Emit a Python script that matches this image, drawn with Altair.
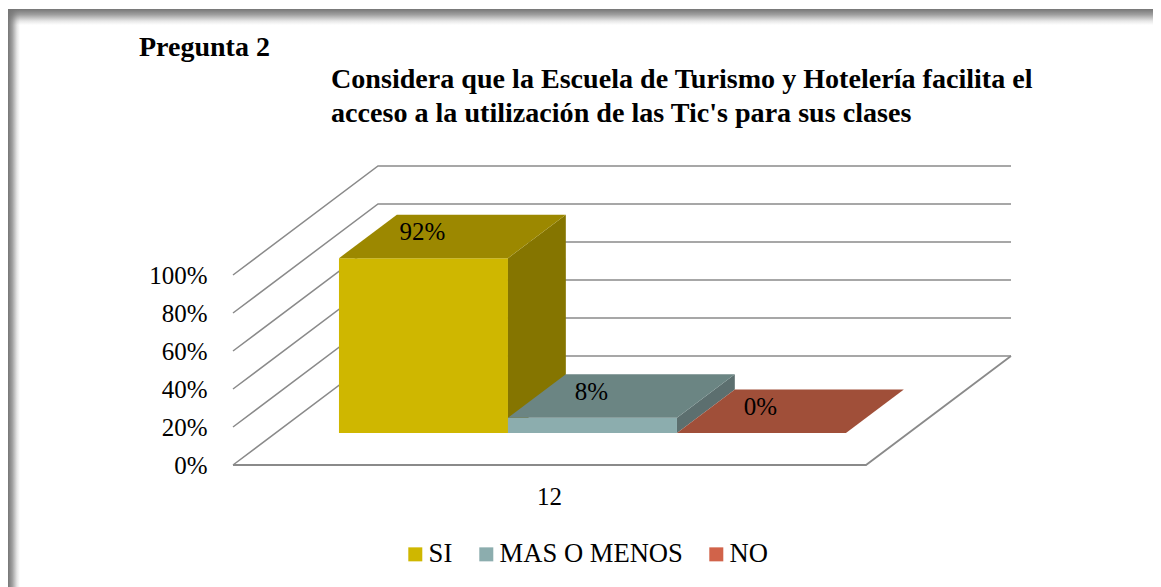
import altair as alt
import pandas as pd

# ---- values
series = ["SI", "MAS O MENOS", "NO"]
values = [92, 8, 0]
labels = ["92%", "8%", "0%"]
front_colors = ["#cfb700", "#8cadae", "#d1634a"]
top_colors = ["#9c8800", "#6b8583", "#a04f39"]
side_colors = ["#857500", "#5c6f6f", "#7d3e2d"]
y_ticks = [0, 20, 40, 60, 80, 100]
category = "12"
heading = "Pregunta 2"
title_lines = ["Considera que la Escuela de Turismo y Hotelería facilita el",
               "acceso a la utilización de las Tic's para sus clases"]

# ---- layout of the pseudo-3D projection
W, H = 1145, 579
FONT = "Liberation Serif"
PX_PER_PCT = 1.9
ORIGIN_X, ORIGIN_Y = 225, 457      # front-left floor corner inside the plot area
FLOOR_W = 633
DEPTH_X = 145                       # px, full depth of the floor
DEPTH_Y = 109 / PX_PER_PCT          # in percent units
CAT_W = 169
BAR_U0 = 63.4
Z0, Z1 = 0.2936, 0.6927


def proj(u, v, z):
    return u + DEPTH_X * z, v + DEPTH_Y * z


x_scale = alt.Scale(domain=[-ORIGIN_X, W - ORIGIN_X], nice=False, zero=False)
y_scale = alt.Scale(domain=[-(H - ORIGIN_Y) / PX_PER_PCT, ORIGIN_Y / PX_PER_PCT], nice=False, zero=False)
color_scale = alt.Scale(domain=series, range=front_colors)

X = alt.X("x:Q", scale=x_scale, title=None, axis=alt.Axis(
    values=[316], labelExpr=f"'{category}'", domain=False, ticks=False, grid=False, tickSize=0,
    labelPadding=0, offset=-103, labelFont=FONT, labelFontSize=25, labelColor="#000", title=None,
    labelBound=False, labelFlush=False, labelOverlap=False))
Y = alt.Y("y:Q", scale=y_scale, title=None, axis=alt.Axis(
    values=y_ticks, labelExpr="datum.value + '%'", domain=False, ticks=False, grid=False, tickSize=0,
    labelPadding=0, offset=-199, labelFont=FONT, labelFontSize=25, labelColor="#000", title=None,
    labelBound=False, labelOverlap=False))

# ---- page frame (soft grey band along the top and left edges)
band_stops = [
    alt.GradientStop(color="rgba(118,118,118,1)", offset=0),
    alt.GradientStop(color="rgba(118,118,118,0.7)", offset=0.35),
    alt.GradientStop(color="rgba(118,118,118,0.18)", offset=0.75),
    alt.GradientStop(color="rgba(118,118,118,0)", offset=1)]
top_grad = alt.Gradient(gradient="linear", x1=0, x2=0, y1=0, y2=1, stops=band_stops)
left_grad = alt.Gradient(gradient="linear", x1=0, x2=1, y1=0, y2=0, stops=band_stops)
dummy = pd.DataFrame({"a": [0]})
frame_left = alt.Chart(dummy).mark_rect(color=left_grad).encode(
    x=alt.value(0), x2=alt.value(12), y=alt.value(1), y2=alt.value(H))
frame_top = alt.Chart(dummy).mark_rect(color=top_grad).encode(
    x=alt.value(0), x2=alt.value(W), y=alt.value(1), y2=alt.value(17))

# ---- walls and floor
rows = []
for t in y_ticks:
    a = proj(0, t, 0); b = proj(0, t, 1); c = proj(FLOOR_W, t, 1)
    for i, p in enumerate([a, b, c]):
        rows.append({"id": f"g{t}", "i": i, "x": p[0], "y": p[1]})
grid = alt.Chart(pd.DataFrame(rows)).mark_line(color="#8a8a8a", strokeWidth=1.5).encode(
    x=X, y=Y, detail="id:N", order="i:Q")
floor_rows = [{"i": i, "x": p[0], "y": p[1]} for i, p in enumerate(
    [proj(0, 0, 0), proj(FLOOR_W, 0, 0), proj(FLOOR_W, 0, 1)])]
floor = alt.Chart(pd.DataFrame(floor_rows)).mark_line(color="#8a8a8a", strokeWidth=1.8).encode(
    x=X, y=Y, order="i:Q")

# ---- bars
bar_layers = []
for k, (name, v) in enumerate(zip(series, values)):
    u0 = BAR_U0 + k * CAT_W
    u1 = u0 + CAT_W
    fx0, fy = proj(u0, 0, Z0)
    fx1, _ = proj(u1, 0, Z0)
    front = pd.DataFrame([{"series": name, "x": fx0, "x2": fx1, "y": v + fy, "y2": fy}])
    bar_layers.append(alt.Chart(front).mark_rect().encode(
        x=X, x2="x2:Q", y=Y, y2="y2:Q",
        color=alt.Color("series:N", scale=color_scale, legend=alt.Legend(
            title=None, orient="none", legendX=394, legendY=533, direction="horizontal",
            symbolType="square", symbolSize=196, symbolStrokeWidth=0, symbolOpacity=1,
            labelFont=FONT, labelFontSize=26.6, labelColor="#000", labelOffset=0,
            columnPadding=20, columns=3, labelLimit=400))))
    # side face: vertical edges
    p = [proj(u1, 0, Z0), proj(u1, 0, Z1)]
    side = pd.DataFrame([{"x": q[0], "y": q[1] + v, "y2": q[1]} for q in p])
    bar_layers.append(alt.Chart(side).mark_area(color=side_colors[k], orient="vertical").encode(
        x=X, y=Y, y2="y2:Q"))
    # top face: horizontal edges
    top = pd.DataFrame([
        {"x": proj(u0, v, z)[0], "x2": proj(u1, v, z)[0], "y": proj(u0, v, z)[1]} for z in (Z0, Z1)])
    bar_layers.append(alt.Chart(top).mark_area(color=top_colors[k], orient="horizontal").encode(
        x=X, x2="x2:Q", y=Y))

# ---- data labels
lab = pd.DataFrame([
    {"x": proj(BAR_U0 + k * CAT_W + CAT_W / 2, v, Z0)[0] - 1,
     "y": proj(0, v, (Z0 + Z1) / 2)[1], "t": t}
    for k, (v, t) in enumerate(zip(values, labels))])
label_layer = alt.Chart(lab).mark_text(font=FONT, fontSize=25, color="#000", dy=-4, baseline="middle").encode(
    x=X, y=Y, text="t:N")

# ---- titles
head = alt.Chart(pd.DataFrame({"t": [heading]})).mark_text(
    font=FONT, fontSize=28, fontWeight="bold", color="#000", align="left", baseline="alphabetic"
).encode(x=alt.value(131), y=alt.value(48), text="t:N")
tit = [alt.Chart(pd.DataFrame({"t": [line]})).mark_text(
    font=FONT, fontSize=28.1, fontWeight="bold", color="#000", align="left", baseline="alphabetic"
).encode(x=alt.value(323), y=alt.value(yy), text="t:N") for line, yy in zip(title_lines, [80, 114])]

chart = alt.layer(grid, floor, frame_left, frame_top, *bar_layers, label_layer, head, *tit).properties(
    width=W, height=H, padding=0, background="#ffffff",
    autosize=alt.AutoSizeParams(type="none"),
).configure_view(stroke=None)

chart.save("out.html", embed_options={"renderer": "svg", "actions": False})
